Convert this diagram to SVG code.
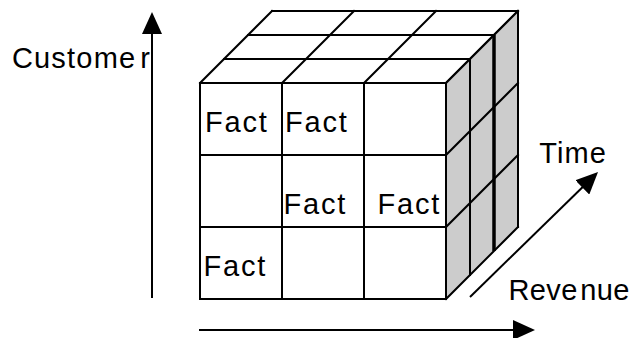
<svg xmlns="http://www.w3.org/2000/svg" width="630" height="338" viewBox="0 0 630 338">
<style>
.cell{fill:#ffffff;stroke:#000;stroke-width:2}
.ln{stroke:#000;stroke-width:2;fill:none;stroke-linecap:square}
.thick{stroke:#000;stroke-width:3.5;fill:none}
.side{fill:#cccccc;stroke:none}
.top{fill:#ffffff;stroke:none}
.lbl{font-family:"Liberation Sans",Arial,Helvetica,sans-serif;font-size:29px;fill:#000}
.fact{letter-spacing:1.8px}
.axis{stroke:#000;stroke-width:2;fill:none;marker-end:url(#head)}
</style>
<defs>
<marker id="head" viewBox="0 0 22 20" refX="1" refY="10" markerWidth="22" markerHeight="20" markerUnits="userSpaceOnUse" orient="auto">
<path d="M0,0 L22,10 L0,20 z" fill="#000"/>
</marker>
</defs>
<g id="top-face">
<polygon class="top" points="200,83 272,11 518,11 446,83"/>
<path class="ln" d="M272,11H518 M248,35H494 M224,59H470 M200,83H446 M200,83L272,11 M282,83L354,11 M364,83L436,11 M446,83L518,11"/>
</g>
<g id="side-face">
<polygon class="side" points="446,83 518,11 518,227 446,299"/>
<path class="ln" d="M470,59V275 M518,11V227 M446,83L518,11 M446,155L518,83 M446,227L518,155 M446,299L518,227"/>
<path class="thick" d="M494,35V251"/>
</g>
<g id="front-face">
<g id="cell-r1c1"><rect class="cell" x="200" y="83" width="82" height="72"/><text class="lbl fact" x="205" y="132">Fact</text></g>
<g id="cell-r1c2"><rect class="cell" x="282" y="83" width="82" height="72"/><text class="lbl fact" x="285" y="132">Fact</text></g>
<g id="cell-r1c3"><rect class="cell" x="364" y="83" width="82" height="72"/></g>
<g id="cell-r2c1"><rect class="cell" x="200" y="155" width="82" height="72"/></g>
<g id="cell-r2c2"><rect class="cell" x="282" y="155" width="82" height="72"/><text class="lbl fact" x="283.6" y="213.5">Fact</text></g>
<g id="cell-r2c3"><rect class="cell" x="364" y="155" width="82" height="72"/><text class="lbl fact" x="377.6" y="213.5">Fact</text></g>
<g id="cell-r3c1"><rect class="cell" x="200" y="227" width="82" height="72"/><text class="lbl fact" x="203.6" y="276">Fact</text></g>
<g id="cell-r3c2"><rect class="cell" x="282" y="227" width="82" height="72"/></g>
<g id="cell-r3c3"><rect class="cell" x="364" y="227" width="82" height="72"/></g>
</g>
<g id="connectors">
<line class="axis" x1="152" y1="298" x2="152" y2="33"/>
<line class="axis" x1="199" y1="330" x2="514" y2="330"/>
<line class="axis" x1="470" y1="297" x2="583" y2="186.7"/>
</g>
<g id="label-customer"><text class="lbl" x="11.9" y="68.3" letter-spacing="1.2">Custome<tspan dx="4">r</tspan></text></g>
<g id="label-time"><text class="lbl" x="539.3" y="163.3" letter-spacing="1.1">Time</text></g>
<g id="label-revenue"><text class="lbl" x="508.4" y="300" letter-spacing="0.4">Reve<tspan dx="2.6">nue</tspan></text></g>
</svg>
